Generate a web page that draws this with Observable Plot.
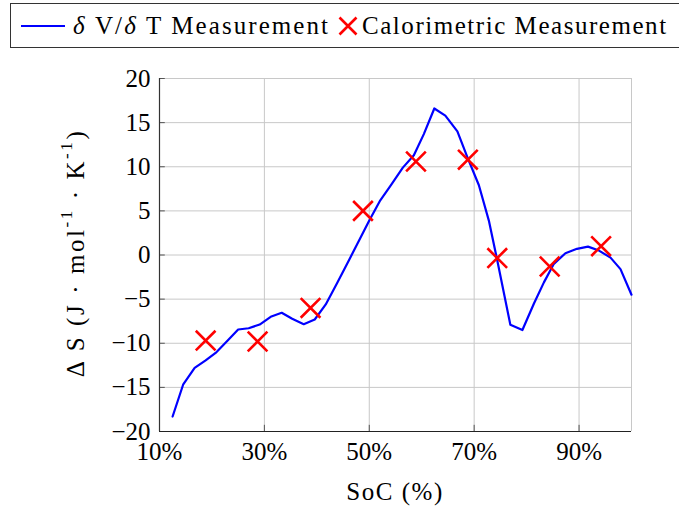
<!DOCTYPE html>
<html>
<head>
<meta charset="utf-8">
<script src="https://cdn.jsdelivr.net/npm/d3@7"></script>
<script src="https://cdn.jsdelivr.net/npm/@observablehq/plot@0.6"></script>
<style>
  html, body { margin: 0; padding: 0; background: #fff; }
  #wrap { position: relative; width: 679px; height: 511px; overflow: hidden; font-family: "Liberation Serif", serif; }
  #legend { position: absolute; left: 0; top: 0; }
  #chart { position: absolute; left: 0; top: 0; }
  text { font-family: "Liberation Serif", serif; }
</style>
</head>
<body>
<div id="wrap">
  <div id="chart"></div>
  <svg id="legend" width="679" height="52"></svg>
</div>
<script>
// δV/δT measurement (line)
const soc = [12.5, 14.5, 16.7, 18.8, 20.7, 23.0, 25.0, 27.0, 29.1, 31.2, 33.3, 35.3, 37.5, 39.6, 41.7, 43.9, 46.1, 50.0, 52.1, 54.1, 56.4, 58.5, 60.4, 62.4, 64.5, 66.8, 68.7, 70.9, 72.8, 74.4, 76.9, 79.2, 81.4, 83.3, 85.2, 87.4, 89.6, 91.7, 93.8, 96.0, 97.9, 100];
const dS  = [-18.3, -14.7, -12.8, -11.95, -11.1, -9.7, -8.44, -8.3, -7.88, -7.0, -6.55, -7.23, -7.84, -7.31, -5.6, -3.15, -0.62, 3.9, 6.2, 7.9, 9.9, 11.3, 13.7, 16.6, 15.8, 14.0, 11.1, 7.9, 3.9, -0.6, -7.9, -8.5, -5.5, -3.1, -1.0, 0.2, 0.7, 0.95, 0.5, -0.3, -1.6, -4.5];
// Calorimetric measurement (crosses)
const calSoc = [18.8, 28.7, 38.8, 48.8, 58.9, 68.8, 74.4, 84.4, 94.2];
const calDS  = [-9.7, -9.8, -6.0, 5.0, 10.6, 10.8, -0.35, -1.3, 1.0];
// ticks
const xTicks = [10, 30, 50, 70, 90];
const yTicks = [-20, -15, -10, -5, 0, 5, 10, 15, 20];
// text
const seriesNames = ["V/", " T Measurement", "Calorimetric Measurement"];
const xLabel = "SoC (%)";

const lineData = soc.map((s, i) => ({x: s, y: dS[i]}));
const calData = calSoc.map((s, i) => ({x: s, y: calDS[i]}));
const FONT = "Liberation Serif, serif";

const plot = Plot.plot({
  width: 679,
  height: 511,
  marginLeft: 159,
  marginRight: 48,
  marginTop: 78,
  marginBottom: 80,
  style: {fontFamily: FONT, fontSize: "25px", color: "#000", background: "transparent", overflow: "visible"},
  x: {domain: [10, 100], ticks: xTicks, tickFormat: d => d + "%", label: null},
  y: {domain: [-20, 20], ticks: yTicks, label: null},
  marks: [
    Plot.ruleY(yTicks.filter(d => d > -20), {stroke: "#c8c8c8", strokeWidth: 1, strokeOpacity: 1}),
    Plot.ruleX(xTicks.filter(d => d > 10).concat([100]), {stroke: "#c8c8c8", strokeWidth: 1, strokeOpacity: 1}),
    Plot.ruleY(yTicks.filter(d => d > -20), {x1: 10, x2: 11.1, stroke: "#555", strokeWidth: 1}),
    Plot.ruleX(xTicks.filter(d => d > 10), {y1: -20, y2: -19.3, stroke: "#555", strokeWidth: 1}),
    Plot.ruleX([10], {stroke: "#333", strokeWidth: 1.2}),
    Plot.ruleY([-20], {stroke: "#222", strokeWidth: 1.2}),
    Plot.line(lineData, {x: "x", y: "y", stroke: "#0000ff", strokeWidth: 2.2}),
    Plot.dot(calData, {x: "x", y: "y", symbol: "times", r: 9, stroke: "#ff0000", strokeWidth: 2.6}),
    Plot.axisX({ticks: xTicks, tickFormat: d => d + "%", tickSize: 0, tickPadding: 11, label: null}),
    Plot.axisY({ticks: yTicks, tickSize: 0, tickPadding: 9, label: null})
  ]
});
document.getElementById("chart").appendChild(plot);

// stretch a text's letter spacing so it spans the target width
function fit(sel, target) {
  const node = sel.node();
  const L = node.getComputedTextLength();
  const n = node.textContent.length;
  if (n > 1) sel.attr("letter-spacing", ((target - L) / (n - 1)).toFixed(2));
}

const svg = d3.select(plot);
const yl = svg.append("text")
  .attr("transform", "translate(75,253) rotate(-90)")
  .attr("text-anchor", "middle")
  .attr("dominant-baseline", "central")
  .attr("font-family", FONT)
  .attr("font-size", 25)
  .attr("fill", "#000");
yl.append("tspan").text("Δ S (J · mol");
yl.append("tspan").attr("dy", -9).attr("font-size", 17).text("-1");
yl.append("tspan").attr("dy", 9).text(" · K");
yl.append("tspan").attr("dy", -9).attr("font-size", 17).text("-1");
yl.append("tspan").attr("dy", 9).text(")");
fit(yl, 246);

const xl = svg.append("text")
  .attr("x", 395).attr("y", 500)
  .attr("text-anchor", "middle")
  .attr("font-family", FONT)
  .attr("font-size", 25)
  .attr("fill", "#000")
  .text(xLabel);
fit(xl, 96);

// legend
const lg = d3.select("#legend");
lg.append("rect").attr("x", 10.5).attr("y", 3.5).attr("width", 720).attr("height", 44)
  .attr("fill", "#fff").attr("stroke", "#333").attr("stroke-width", 1);
lg.append("line").attr("x1", 21).attr("x2", 65).attr("y1", 26).attr("y2", 26)
  .attr("stroke", "#0000ff").attr("stroke-width", 2.2);
const t1 = lg.append("text").attr("x", 73).attr("y", 34)
  .attr("font-family", FONT).attr("font-size", 25).attr("fill", "#000");
t1.append("tspan").attr("font-style", "italic").text("δ");
t1.append("tspan").text(" " + seriesNames[0]);
t1.append("tspan").attr("font-style", "italic").text("δ");
t1.append("tspan").text(seriesNames[1]);
fit(t1, 255);
lg.append("path").attr("d", "M339.5,17.5L356.5,34.5M356.5,17.5L339.5,34.5")
  .attr("stroke", "#ff0000").attr("stroke-width", 2.6).attr("fill", "none");
const t2 = lg.append("text").attr("x", 362).attr("y", 34)
  .attr("font-family", FONT).attr("font-size", 25).attr("fill", "#000")
  .text(seriesNames[2]);
fit(t2, 304);
</script>
</body>
</html>
